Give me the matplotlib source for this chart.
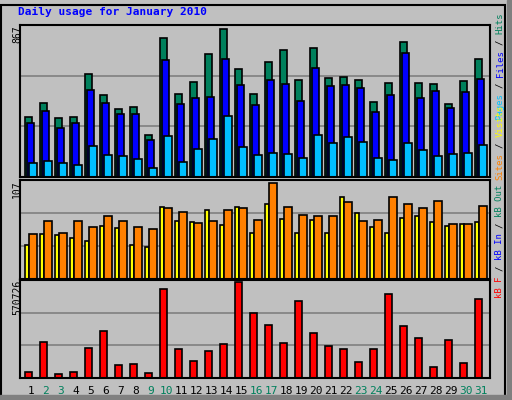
import matplotlib
matplotlib.use('Agg')
import matplotlib.pyplot as plt
import numpy as np

days = np.arange(1, 32)
hits = [349, 432, 343, 349, 602, 479, 396, 408, 243, 814, 485, 555, 720, 867, 632, 485,
        673, 744, 567, 755, 579, 585, 567, 438, 549, 791, 549, 543, 426, 561, 691]
files = [314, 385, 284, 314, 508, 432, 367, 367, 214, 685, 426, 461, 467, 691, 538, 420,
         567, 543, 443, 638, 532, 538, 520, 379, 479, 726, 461, 502, 402, 496, 573]
pages = [84, 96, 84, 73, 184, 126, 120, 108, 55, 237, 90, 161, 220, 355, 173, 126,
         143, 137, 114, 243, 196, 232, 202, 114, 102, 196, 155, 120, 137, 143, 190]
visits = [38, 50, 49, 46, 43, 59, 57, 38, 36, 80, 65, 64, 77, 60, 81, 52,
          84, 67, 51, 66, 52, 92, 74, 58, 51, 68, 70, 64, 59, 61, 64]
sites = [50, 65, 52, 65, 58, 70, 65, 58, 56, 79, 75, 63, 65, 77, 79, 66,
         107, 81, 72, 71, 70, 86, 65, 66, 92, 84, 79, 87, 61, 61, 82]
kbytes = [35000, 214000, 21000, 35000, 176000, 282000, 77000, 83000, 27000, 531000, 170000,
          102000, 158000, 201000, 570726, 388000, 313000, 208000, 457000, 270000, 189000,
          170000, 95000, 170000, 500000, 307000, 239000, 64000, 226000, 89000, 469000]
weekend = [2, 3, 9, 10, 16, 17, 23, 24, 30, 31]

W, H = 512, 400
fig = plt.figure(figsize=(W / 100, H / 100), dpi=100, facecolor='#c0c0c0')
mono = 'DejaVu Sans Mono'


def ax_at(x0, y0, x1, y1, top):
    ax = fig.add_axes([x0 / W, 1 - y1 / H, (x1 - x0) / W, (y1 - y0) / H])
    ax.set_facecolor('#c0c0c0')
    ax.set_xlim(0.267, 31.6)
    ax.set_ylim(0, top)
    ax.set_xticks([])
    ax.set_yticks([])
    for s in ax.spines.values():
        s.set_linewidth(1.5)
    for f in (1 / 3, 2 / 3):
        ax.axhline(f * top, color='#808080', lw=1.2, zorder=0)
    return ax


kw = dict(align='edge', edgecolor='black', linewidth=1.2)

# hits / files / pages
ax1 = ax_at(20, 25, 490, 177, 867 * 1.025)
ax1.bar(days - 0.4, hits, 0.5, color='#00805c', **kw)
ax1.bar(days - 0.27, files, 0.5, color='#0000ff', **kw)
ax1.bar(days - 0.13, pages, 0.5, color='#00c0ff', **kw)

# visits / sites
ax2 = ax_at(20, 180, 490, 279, 107 * 1.035)
ax2.bar(days - 0.4, visits, 0.3, color='#ffff00', **kw)
ax2.bar(days - 0.1, sites, 0.5, color='#ff8000', **kw)

# kbytes
ax3 = ax_at(20, 280, 490, 378, 570726 * 1.02)
ax3.bar(days - 0.4, kbytes, 0.5, color='#ff0000', **kw)
ax3.set_xticks(days)
ax3.set_xticklabels([str(d) for d in days], fontsize=8, family=mono)
ax3.tick_params(axis='x', length=0, pad=6)
for lbl, d in zip(ax3.get_xticklabels(), days):
    lbl.set_color('#00805c' if d in weekend else 'black')

fig.text(18 / W, 1 - 15 / H, 'Daily usage for January 2010', color='#0000ff',
         fontsize=8, fontweight='bold', family=mono)

for txt, y in (('867', 25), ('107', 180), ('570726', 280)):
    fig.text(12 / W, 1 - y / H, txt, rotation=90, va='top', ha='left',
             fontsize=7, family=mono)

# right-hand vertical legends, stacked bottom to top (monospace advance)
fig.canvas.draw()
rend = fig.canvas.get_renderer()
probe = fig.text(0, 0, 'M' * 40, fontsize=6.5, family=mono)
adv = probe.get_window_extent(rend).width / 40
probe.remove()


def stack(pieces, y_bottom):
    n = 0
    for txt, col in pieces:
        if txt.strip():
            lead = len(txt) - len(txt.lstrip())
            fig.text(500 / W, 1 - (y_bottom - (n + lead) * adv) / H, txt.strip(),
                     rotation=90, color=col, ha='center', va='bottom',
                     fontsize=6.5, family=mono)
        n += len(txt)


stack([('Pages', '#00c0ff'), (' / ', 'black'), ('Files', '#0000ff'),
       (' / ', 'black'), ('Hits', '#00805c')], 120)
stack([('kB F', '#ff0000'), (' / ', 'black'), ('kB In', '#0000ff'),
       (' / ', 'black'), ('kB Out', '#00805c'), (' ', 'black'), ('Sites', '#ff8000'),
       (' / ', 'black'), ('Visits', '#ffff00')], 298)

# outer 3D border
fig.patches.append(plt.Rectangle((0.002, 0.002), 0.985, 0.985, transform=fig.transFigure,
                                 fill=False, edgecolor='black', lw=1.5))
fig.patches.append(plt.Rectangle((0.99, 0), 0.01, 1, transform=fig.transFigure,
                                 color='#808080'))
fig.patches.append(plt.Rectangle((0, 0), 1, 0.012, transform=fig.transFigure,
                                 color='#808080'))

fig.savefig('out.png', dpi=100, facecolor=fig.get_facecolor())
